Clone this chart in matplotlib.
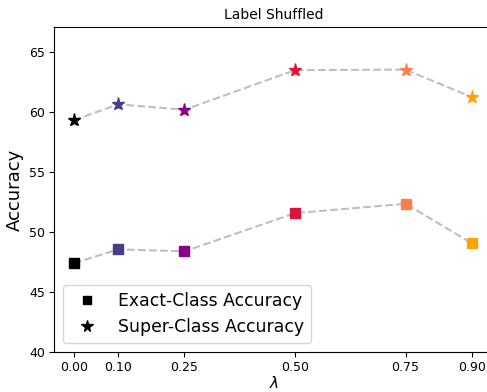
import matplotlib
matplotlib.use("Agg")
import matplotlib.pyplot as plt

lambdas = [0.0, 0.1, 0.25, 0.5, 0.75, 0.9]
tick_labels = ["0.00", "0.10", "0.25", "0.50", "0.75", "0.90"]
exact_acc = [47.4, 48.56, 48.39, 51.58, 52.36, 49.06]
super_acc = [59.33, 60.65, 60.2, 63.5, 63.55, 61.25]
colors = ["black", "darkslateblue", "darkmagenta", "crimson", "coral", "orange"]

fig = plt.figure(figsize=(4.87, 3.92), dpi=100)
ax = fig.add_axes([54 / 487, 40 / 392, 440 / 487, 325 / 392])

ax.plot(lambdas, exact_acc, "--", color="gray", alpha=0.5, lw=1.5, zorder=1)
ax.plot(lambdas, super_acc, "--", color="gray", alpha=0.5, lw=1.5, zorder=1)
for x, e, s, c in zip(lambdas, exact_acc, super_acc, colors):
    ax.plot(x, e, "s", color=c, markersize=6.5, zorder=2)
    ax.plot(x, s, "*", color=c, markersize=9.5, zorder=2)

# legend proxies
ax.plot([], [], "s", color="black", markersize=5.5, label="Exact-Class Accuracy")
ax.plot([], [], "*", color="black", markersize=8.5, label="Super-Class Accuracy")
ax.legend(loc="lower left", fontsize=12.4)

ax.set_xlim(-0.045, 0.95)
ax.set_ylim(40, 67.1)
ax.set_xticks(lambdas)
ax.set_xticklabels(tick_labels)
ax.set_yticks([40, 45, 50, 55, 60, 65])
ax.tick_params(labelsize=9, pad=3)
ax.set_xlabel(r"$\lambda$", fontsize=11, labelpad=1)
ax.set_ylabel("Accuracy", fontsize=13)
ax.set_title("Label Shuffled", fontsize=10)

fig.savefig("out.png", dpi=100)
